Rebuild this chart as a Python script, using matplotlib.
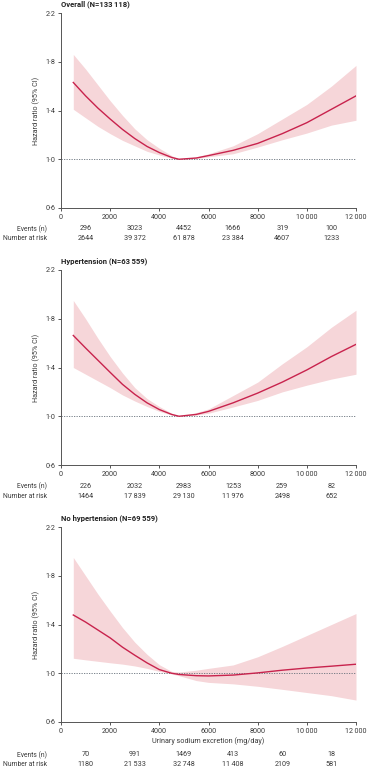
import matplotlib
matplotlib.use("Agg")
import matplotlib.pyplot as plt
import matplotlib.transforms as mtransforms

plt.rcParams['font.family'] = ['Roboto', 'DejaVu Sans']

TS = '\u2009'

sodium = [500, 1000, 1500, 2000, 2500, 3000, 3500, 4000, 4500, 4800,
          5500, 6000, 7000, 8000, 9000, 10000, 11000, 12000]

overall_hr = [1.63, 1.52, 1.42, 1.33, 1.245, 1.17, 1.105, 1.055, 1.015, 1.0,
              1.01, 1.03, 1.073, 1.13, 1.21, 1.30, 1.41, 1.52]
overall_hi = [1.86, 1.74, 1.61, 1.48, 1.36, 1.25, 1.16, 1.09, 1.03, 1.0,
              1.02, 1.045, 1.11, 1.21, 1.33, 1.45, 1.60, 1.77]
overall_lo = [1.41, 1.34, 1.27, 1.21, 1.155, 1.11, 1.065, 1.035, 1.008, 1.0,
              1.005, 1.02, 1.045, 1.10, 1.16, 1.215, 1.28, 1.32]

htn_hr = [1.663, 1.56, 1.46, 1.36, 1.262, 1.18, 1.11, 1.055, 1.015, 1.0,
          1.015, 1.04, 1.11, 1.19, 1.28, 1.38, 1.49, 1.59]
htn_hi = [1.95, 1.80, 1.64, 1.49, 1.355, 1.235, 1.145, 1.08, 1.025, 1.0,
          1.03, 1.06, 1.17, 1.28, 1.43, 1.57, 1.73, 1.87]
htn_lo = [1.40, 1.345, 1.29, 1.235, 1.175, 1.125, 1.08, 1.04, 1.01, 1.0,
          1.01, 1.025, 1.076, 1.13, 1.20, 1.255, 1.305, 1.345]

nohtn_hr = [1.478, 1.42, 1.355, 1.29, 1.214, 1.148, 1.085, 1.03, 1.0, 0.99,
            0.98, 0.978, 0.985, 1.003, 1.025, 1.043, 1.058, 1.074]
nohtn_hi = [1.95, 1.80, 1.65, 1.51, 1.375, 1.255, 1.155, 1.07, 1.015, 1.01,
            1.025, 1.04, 1.068, 1.135, 1.22, 1.31, 1.40, 1.49]
nohtn_lo = [1.123, 1.11, 1.098, 1.086, 1.075, 1.06, 1.04, 1.015, 0.995, 0.98,
            0.94, 0.925, 0.913, 0.893, 0.868, 0.842, 0.816, 0.78]

bin_centers = [1000, 3000, 5000, 7000, 9000, 11000]
overall_events = [296, 3023, 4452, 1666, 319, 100]
overall_risk = [2644, 39372, 61878, 23384, 4607, 1233]
htn_events = [226, 2032, 2983, 1253, 259, 82]
htn_risk = [1464, 17839, 29130, 11976, 2498, 652]
nohtn_events = [70, 991, 1469, 413, 60, 18]
nohtn_risk = [1180, 21533, 32748, 11408, 2109, 581]

titles = ["Overall (N=133" + TS + "118)",
          "Hypertension (N=63" + TS + "559)",
          "No hypertension (N=69" + TS + "559)"]

y_ticks = [0.6, 1.0, 1.4, 1.8, 2.2]
y_ticklabels = ["0·6", "1·0", "1·4", "1·8", "2·2"]
x_ticks = [0, 2000, 4000, 6000, 8000, 10000, 12000]
x_ticklabels = ["0", "2000", "4000", "6000", "8000", "10" + TS + "000", "12" + TS + "000"]


def fmt(n):
    s = str(n)
    if n >= 10000:
        s = s[:-3] + TS + s[-3:]
    return s


LINE = '#c8234d'
BAND = '#f6d6d9'
TXT = '#3a3a3a'
SPINE = '#555555'
FS = 5.2

fig = plt.figure(figsize=(3.67, 7.68), dpi=100)
W, H = 367.0, 768.0
left_px, right_px = 61, 356
tops = [13, 270, 527]
ax_h = 195

panels = [
    (overall_hr, overall_lo, overall_hi, overall_events, overall_risk),
    (htn_hr, htn_lo, htn_hi, htn_events, htn_risk),
    (nohtn_hr, nohtn_lo, nohtn_hi, nohtn_events, nohtn_risk),
]

for i, (hr, lo, hi, ev, risk) in enumerate(panels):
    top = tops[i]
    ax = fig.add_axes([left_px / W, 1 - (top + ax_h) / H,
                       (right_px - left_px) / W, ax_h / H])
    ax.fill_between(sodium, lo, hi, color=BAND, lw=0, zorder=1)
    ax.plot(sodium, hr, color=LINE, lw=1.0, zorder=3)
    ax.axhline(1.0, color='#66707a', lw=0.6, ls=(0, (1.5, 1.5)), zorder=2)
    ax.set_xlim(0, 12000)
    ax.set_ylim(0.6, 2.2)
    for s in ['top', 'right']:
        ax.spines[s].set_visible(False)
    for s in ['left', 'bottom']:
        ax.spines[s].set_color(SPINE)
        ax.spines[s].set_linewidth(0.7)
    ax.set_yticks(y_ticks)
    ax.set_yticklabels(y_ticklabels)
    ax.set_xticks(x_ticks)
    ax.set_xticklabels(x_ticklabels)
    ax.tick_params(axis='both', labelsize=FS, colors=TXT, length=2.5, width=0.6,
                   pad=1.5)
    ax.set_ylabel("Hazard ratio (95% CI)", fontsize=FS, color=TXT, labelpad=4)
    ax.text(0, 1.046, titles[i], transform=ax.transAxes, fontsize=5.5,
            fontweight='bold', color='#222222', ha='left', va='center')

    if i == 2:
        ax.set_xlabel("Urinary sodium excretion (mg/day)", fontsize=FS,
                      color=TXT, labelpad=2)
        y_ev = -33 / ax_h
        y_rk = -43 / ax_h
    else:
        y_ev = -21 / ax_h
        y_rk = -31 / ax_h

    trans = mtransforms.blended_transform_factory(ax.transData, ax.transAxes)
    lab_x = -14 / (right_px - left_px)
    ax.text(lab_x, y_ev, "Events (n)", transform=ax.transAxes,
            fontsize=4.9, color=TXT, ha='right', va='center')
    ax.text(lab_x, y_rk, "Number at risk", transform=ax.transAxes,
            fontsize=4.9, color=TXT, ha='right', va='center')
    for xc, e, r in zip(bin_centers, ev, risk):
        ax.text(xc, y_ev, fmt(e), transform=trans, fontsize=FS, color=TXT,
                ha='center', va='center', clip_on=False)
        ax.text(xc, y_rk, fmt(r), transform=trans, fontsize=FS, color=TXT,
                ha='center', va='center', clip_on=False)

fig.savefig("out.png", dpi=100)
